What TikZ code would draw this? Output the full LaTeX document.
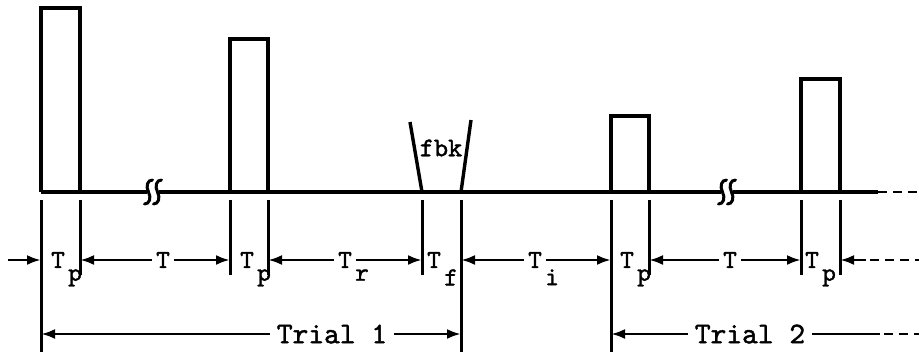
\documentclass[tikz,border=0pt]{standalone}
\usepackage{fontspec}
\usepackage{tikz}
\usetikzlibrary{arrows.meta,positioning,calc}
\newfontfamily\typew{lmmono10-regular}[Extension=.otf, FakeBold=1.4]

\begin{document}
\begin{tikzpicture}[x=1pt,y=-1pt,
    wave/.style={line width=3.4pt, line join=miter},
    tick/.style={line width=3pt},
    dim/.style={line width=2.8pt, -{Latex[length=14pt,width=10pt]}},
    dots/.style={line width=2.8pt, dash pattern=on 9pt off 6pt},
    lbl/.style={font=\fontsize{26}{26}\selectfont\typew\bfseries, inner xsep=4pt, inner ysep=0pt},
    sublbl/.style={font=\fontsize{26}{26}\selectfont\typew\bfseries, inner sep=0pt, anchor=north west},
    triallbl/.style={font=\fontsize{30}{30}\selectfont\typew\bfseries, inner xsep=7pt, inner ysep=0pt}]
  \useasboundingbox (0,0) rectangle (919,360);
  % edges of the pulses and of the feedback window, on the baseline
  \foreach \n/\x in {a1/41, a2/80, b1/230, b2/268, f1/422, f2/461, c1/611, c2/649, d1/801, d2/840} {
    \coordinate (\n) at (\x,192);
  }
  % baseline, broken twice, dotted at the right end
  \coordinate (baseend) at (878,192);
  \coordinate (basedots) at (919,192);
  \draw[wave] (a1) -- (147,192);
  \draw[wave] (159,192) -- (721,192);
  \draw[wave] (733,192) -- (baseend);
  \draw[dots] (baseend) -- (basedots);
  % break marks
  \foreach \bx in {153,727} {
    \foreach \dx in {-4.5,4.5} {
      \draw[line width=3pt, line cap=round]
        (\bx+\dx+4,180) .. controls (\bx+\dx-1,180) and (\bx+\dx-3,186) .. (\bx+\dx,192)
        .. controls (\bx+\dx+3,198) and (\bx+\dx+1,204) .. (\bx+\dx-4,204);
    }
  }
  % pulses
  \draw[wave] (a1) -- ++(0,-184) -| (a2);
  \draw[wave] (b1) -- ++(0,-153) -| (b2);
  \draw[wave] (c1) -- ++(0,-76) -| (c2);
  \draw[wave] (d1) -- ++(0,-113) -| (d2);
  % feedback window
  \draw[wave] (f1) -- (410,122);
  \draw[wave] (f2) -- (471,120);
  \node[font=\fontsize{27}{27}\selectfont\typew\bfseries] (fbk) at (441,148) {fbk};
  % ticks under the baseline
  \foreach \n in {a2,b1,b2,f1,c2,d1,d2} {
    \draw[tick] (\n) ++(0,8) -- ++(0,75);
  }
  \foreach \n in {a1,f2,c1} {
    \draw[tick] (\n) ++(0,8) -- ++(0,152);
  }
  % durations
  \node[lbl] (tp1) at (58,260) {T};
  \node[sublbl] at ($(tp1.south east)+(-1,1)$) {p};
  \node[lbl] (t1) at (163,260) {T};
  \node[lbl] (tp2) at (247,260) {T};
  \node[sublbl] at ($(tp2.south east)+(-1,1)$) {p};
  \node[lbl] (tr) at (345,260) {T};
  \node[sublbl] at ($(tr.south east)+(-1,1)$) {r};
  \node[lbl] (tf) at (434,260) {T};
  \node[sublbl] at ($(tf.south east)+(-1,1)$) {f};
  \node[lbl] (ti) at (535,260) {T};
  \node[sublbl] at ($(ti.south east)+(-1,1)$) {i};
  \node[lbl] (tp3) at (627,260) {T};
  \node[sublbl] at ($(tp3.south east)+(-1,1)$) {p};
  \node[lbl] (t2) at (730,260) {T};
  \node[lbl] (tp4) at (812,260) {T};
  \node[sublbl] at ($(tp4.south east)+(-1,1)$) {p};
  % duration arrows
  \coordinate (entry) at (8,260);
  \draw[dim] (entry) -- (entry -| a1);
  \draw[dim] (t1) -- (t1 -| a2);
  \draw[dim] (t1) -- (t1 -| b1);
  \draw[dim] (tr) -- (tr -| b2);
  \draw[dim] (tr) -- (tr -| f1);
  \draw[dim] (ti) -- (ti -| f2);
  \draw[dim] (ti) -- (ti -| c1);
  \draw[dim] (t2) -- (t2 -| c2);
  \draw[dim] (t2) -- (t2 -| d1);
  \coordinate (tail) at (866,260);
  \coordinate (taildots) at (919,260);
  \draw[dim] (tail) -- (tail -| d2);
  \draw[dots] ([xshift=4pt]tail) -- (taildots);
  % trials
  \node[triallbl] (trial1) at (332,334) {Trial 1};
  \draw[dim] (trial1) -- (trial1 -| a1);
  \draw[dim] (trial1) -- (trial1 -| f2);
  \node[triallbl] (trial2) at (750,334) {Trial 2};
  \coordinate (t2end) at (880,334);
  \coordinate (t2dots) at (919,334);
  \draw[dim] (trial2) -- (trial2 -| c1);
  \draw[line width=2.8pt] (trial2) -- (t2end);
  \draw[dots] ([xshift=4pt]t2end) -- (t2dots);
\end{tikzpicture}
\end{document}
